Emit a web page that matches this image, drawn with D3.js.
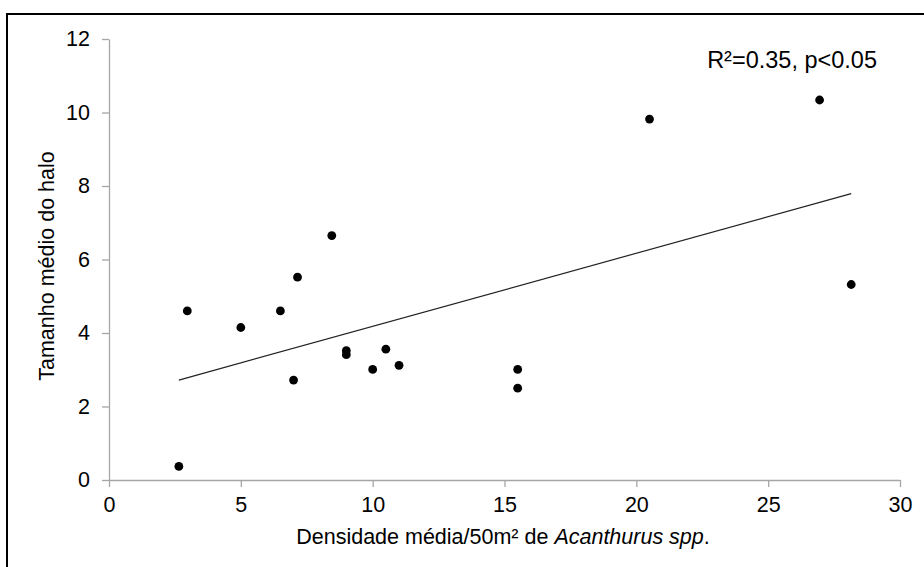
<!DOCTYPE html>
<html>
<head>
<meta charset="utf-8">
<script src="https://cdn.jsdelivr.net/npm/d3@7"></script>
<style>
  body { margin: 0; background: #fff; }
  svg { display: block; font-family: "Liberation Sans", Arial, sans-serif; }
</style>
</head>
<body>
<div id="chart"></div>
<script>
// densidade media (x) e tamanho medio do halo (y)
var densidade = [2.65, 2.97, 5.0, 6.5, 7.0, 7.15, 8.45, 9.0, 9.0, 10.0, 10.5, 11.0, 15.5, 15.5, 20.5, 26.95, 28.15];
var halo      = [0.37, 4.6, 4.15, 4.6, 2.72, 5.52, 6.65, 3.52, 3.41, 3.01, 3.56, 3.12, 3.01, 2.5, 9.82, 10.34, 5.32];
var xTicks = [0, 5, 10, 15, 20, 25, 30];
var yTicks = [0, 2, 4, 6, 8, 10, 12];
var anotacao = "R²=0.35, p<0.05";

var width = 924, height = 567;
var axisColor = "#a6a6a6";

var svg = d3.select("#chart")
  .append("svg")
    .attr("width", width)
    .attr("height", height);

// moldura da area do grafico
svg.append("rect")
  .attr("x", 7).attr("y", 14)
  .attr("width", 940).attr("height", 600)
  .attr("fill", "none")
  .attr("stroke", "#000")
  .attr("stroke-width", 2);

var x = d3.scaleLinear().domain([0, 30]).range([109, 900]);
var y = d3.scaleLinear().domain([0, 12]).range([480, 39]);

var data = densidade.map((d, i) => ({x: d, y: halo[i]}));

// eixo x
var gx = svg.append("g")
  .attr("transform", "translate(0," + y(0) + ")")
  .call(d3.axisBottom(x).tickValues(xTicks).tickSize(7).tickPadding(10).tickSizeOuter(0));
// eixo y
var gy = svg.append("g")
  .attr("transform", "translate(" + x(0) + ",0)")
  .call(d3.axisLeft(y).tickValues(yTicks).tickSize(7).tickPadding(12).tickSizeOuter(0));

[gx, gy].forEach(function(g) {
  g.select(".domain").attr("stroke", axisColor).attr("stroke-width", 1.3);
  g.selectAll(".tick line").attr("stroke", axisColor).attr("stroke-width", 1.3);
  g.selectAll(".tick text")
    .attr("fill", "#000")
    .style("font-size", "21.5px")
    .style("font-family", "'Liberation Sans', Arial, sans-serif");
});

// linha de tendencia (minimos quadrados)
var mx = d3.mean(data, d => d.x), my = d3.mean(data, d => d.y);
var slope = d3.sum(data, d => (d.x - mx) * (d.y - my)) / d3.sum(data, d => (d.x - mx) * (d.x - mx));
var intercept = my - slope * mx;
var xr = d3.extent(data, d => d.x);

svg.append("path")
  .datum(xr.map(v => [v, intercept + slope * v]))
  .attr("d", d3.line().x(d => x(d[0])).y(d => y(d[1])))
  .attr("fill", "none")
  .attr("stroke", "#222")
  .attr("stroke-width", 1.2);

svg.selectAll("circle.pt")
  .data(data)
  .enter().append("circle")
  .attr("class", "pt")
  .attr("cx", d => x(d.x))
  .attr("cy", d => y(d.y))
  .attr("r", 4.4)
  .attr("fill", "#000");

// titulos dos eixos
var xt = svg.append("text")
  .attr("x", 503)
  .attr("y", 544)
  .attr("text-anchor", "middle")
  .style("font-size", "21.5px");
xt.append("tspan").text("Densidade média/50m² de ");
xt.append("tspan").style("font-style", "italic").text("Acanthurus spp");
xt.append("tspan").text(".");

svg.append("text")
  .attr("transform", "translate(54,266) rotate(-90)")
  .attr("text-anchor", "middle")
  .style("font-size", "21.5px")
  .text("Tamanho médio do halo");

svg.append("text")
  .attr("x", 877)
  .attr("y", 68)
  .attr("text-anchor", "end")
  .style("font-size", "23.5px")
  .text(anotacao);
</script>
</body>
</html>
